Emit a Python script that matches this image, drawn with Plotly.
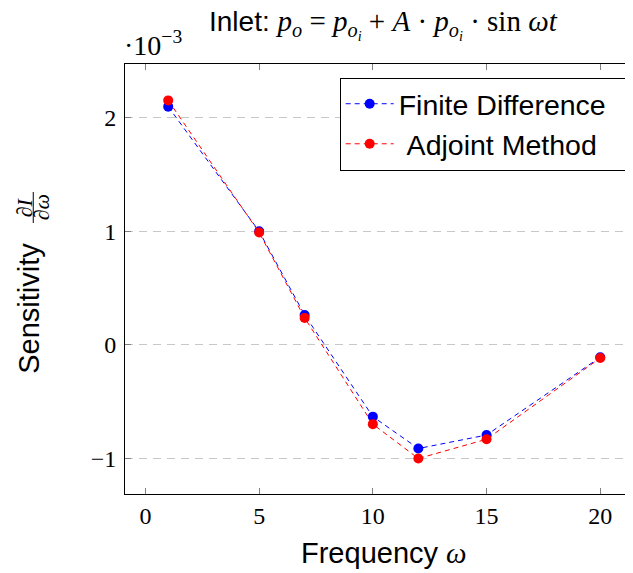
import plotly.graph_objects as go

freq = [1, 5, 7, 10, 12, 15, 20]
finite_difference = [2.10, 1.00, 0.263, -0.634, -0.915, -0.796, -0.11]
adjoint_method = [2.155, 0.99, 0.237, -0.70, -1.003, -0.833, -0.117]
x_ticks = [0, 5, 10, 15, 20]
y_ticks = [-1, 0, 1, 2]

SANS = "Liberation Sans, Arial, sans-serif"
SERIF = "Liberation Serif, Times New Roman, serif"

# page body has an 8px default margin
OFF = 8
SW, SH = 633, 573
W, H = SW - OFF, SH - OFF
L, R, T, B = 125.2, 633.0, 64.0, 494.0   # plot box in screen pixels
PW, PH = R - L, B - T


def px(x):
    return (x - L) / PW


def py(y):
    return (B - y) / PH


fig = go.Figure()
fig.add_trace(go.Scatter(
    x=freq, y=finite_difference, name="Finite Difference\u00a0\u00a0", mode="lines+markers",
    line=dict(color="rgb(0,0,255)", width=1, dash="5px,4px"),
    marker=dict(color="rgb(0,0,255)", size=10, symbol="circle"),
))
fig.add_trace(go.Scatter(
    x=freq, y=adjoint_method, name="\u00a0Adjoint Method", mode="lines+markers",
    line=dict(color="rgb(255,0,0)", width=1, dash="5px,4px"),
    marker=dict(color="rgb(255,0,0)", size=10, symbol="circle"),
))

fig.update_layout(
    width=W, height=H,
    margin=dict(l=L - OFF, r=SW - R, t=T - OFF, b=SH - B, pad=0, autoexpand=False),
    paper_bgcolor="white", plot_bgcolor="white",
    showlegend=True,
    legend=dict(
        x=px(627.7), y=py(77.7), xanchor="right", yanchor="top",
        bordercolor="black", borderwidth=1, bgcolor="white",
        font=dict(family=SANS, size=28.5, color="black"),
        itemwidth=48, tracegroupgap=0,
    ),
    xaxis=dict(
        range=[-0.9, -0.9 + (R - L) / 22.73], tickvals=x_ticks,
        ticks="inside", ticklen=6, tickcolor="#808080", tickwidth=1,
        showline=True, linecolor="black", linewidth=1, mirror="ticks",
        showgrid=False, zeroline=False,
        tickfont=dict(family=SERIF, size=24, color="black"),
    ),
    yaxis=dict(
        range=[-1.316, 2.476], tickvals=y_ticks,
        ticks="inside", ticklen=6, tickcolor="#808080", tickwidth=1,
        showline=True, linecolor="black", linewidth=1,
        showgrid=True, gridcolor="#c8c8c8", gridwidth=1, griddash="8px,6px",
        zeroline=False, ticklabelstandoff=3,
        tickfont=dict(family=SERIF, size=24, color="black"),
    ),
)

ann = [
    dict(text="Inlet: <span style='font-family:Liberation Serif;font-size:29px'><i>p<sub>o</sub></i> = <i>p<sub>o<sub>i</sub></sub></i> + <i>A</i> · <i>p<sub>o<sub>i</sub></sub></i> · sin <i>ωt</i></span>",
         x=px(384), y=py(24), font=dict(family=SANS, size=28, color="black"),
         xanchor="center", yanchor="middle"),
    dict(text="·10<sup>−3</sup>", x=px(122), y=py(44),
         font=dict(family=SERIF, size=28, color="black"),
         xanchor="left", yanchor="middle"),
    dict(text="Frequency <span style='font-family:Liberation Serif'><i>ω</i></span>",
         x=px(384), y=py(553), font=dict(family=SANS, size=29, color="black"),
         xanchor="center", yanchor="middle"),
    dict(text="Sensitivity", x=px(29), y=py(308), textangle=-90,
         font=dict(family=SANS, size=29, color="black"),
         xanchor="center", yanchor="middle"),
    dict(text="∂<i>I</i>", x=px(25), y=py(207.5), textangle=-90,
         font=dict(family=SERIF, size=22, color="black"),
         xanchor="center", yanchor="middle"),
    dict(text="∂<i>ω</i>", x=px(42), y=py(207.5), textangle=-90,
         font=dict(family=SERIF, size=22, color="black"),
         xanchor="center", yanchor="middle"),
]
for a in ann:
    a.update(xref="paper", yref="paper", showarrow=False)
fig.update_layout(annotations=ann)

fig.add_shape(type="line", xref="paper", yref="paper",
              x0=px(33.5), x1=px(33.5), y0=py(223), y1=py(192),
              line=dict(color="black", width=1))

fig.write_html("out.html")
